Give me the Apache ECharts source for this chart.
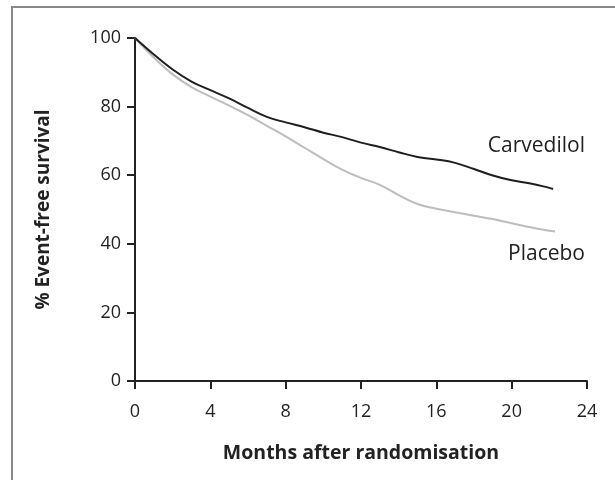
<!DOCTYPE html>
<html>
<head>
<meta charset="utf-8">
<script src="https://cdn.jsdelivr.net/npm/echarts@6/dist/echarts.min.js"></script>
<style>
html,body{margin:0;padding:0;background:#fff;}
#chart{width:615px;height:480px;}
</style>
</head>
<body>
<div id="chart"></div>
<script>
// Months after randomisation, % event-free survival
var carvedilolMonths = [0,1,2,3,4,5,6,7,8,9,10,11,12,13,14,15,16,17,18,19,20,21,22,22.2];
var carvedilolValues = [100,95.2,90.8,87.3,84.8,82.4,79.6,77,75.4,74,72.4,71.1,69.5,68.2,66.7,65.3,64.6,63.6,61.8,59.9,58.5,57.6,56.3,56];
var placeboMonths = [0,1,2,3,4,5,6,7,8,9,10,11,12,13,14,15,16,17,18,19,20,21,22,22.3];
var placeboValues = [100,94.3,89.4,85.7,82.9,80.3,77.5,74.4,71.3,68,64.7,61.6,59.2,57.2,54.2,51.6,50.2,49.2,48.2,47.2,46,44.8,43.8,43.6];
var seriesNames = ['Carvedilol','Placebo'];
var xTicks = [0,4,8,12,16,20,24];
var yTicks = [0,20,40,60,80,100];

function pairs(xs, ys){ return xs.map(function(x,i){ return [x, ys[i]]; }); }

var chart = echarts.init(document.getElementById('chart'), null, {renderer:'canvas'});
var labelFont = 'Open Sans';
chart.setOption({
  animation:false,
  backgroundColor:'#fff',
  grid:{left:135, right:28, top:38, bottom:99},
  xAxis:{
    type:'value', min:xTicks[0], max:xTicks[xTicks.length-1], interval:4,
    name:'Months after randomisation', nameLocation:'middle', nameGap:62,
    nameTextStyle:{fontFamily:labelFont, fontWeight:'bold', fontSize:19.5, color:'#222'},
    axisLine:{show:true, onZero:false, lineStyle:{color:'#222', width:2}},
    axisTick:{show:true, length:8, lineStyle:{color:'#222', width:2}},
    axisLabel:{margin:22, fontFamily:labelFont, fontSize:18, color:'#222'},
    splitLine:{show:false}
  },
  yAxis:{
    type:'value', min:yTicks[0], max:yTicks[yTicks.length-1], interval:20,
    name:'% Event-free survival', nameLocation:'middle', nameGap:82, nameRotate:90,
    nameTextStyle:{fontFamily:labelFont, fontWeight:'bold', fontSize:19, color:'#222'},
    axisLine:{show:true, onZero:false, lineStyle:{color:'#222', width:2}},
    axisTick:{show:true, length:8, lineStyle:{color:'#222', width:2}},
    axisLabel:{margin:14, fontFamily:labelFont, fontSize:18, color:'#222'},
    splitLine:{show:false}
  },
  series:[
    {name:seriesNames[0], type:'line', data:pairs(carvedilolMonths, carvedilolValues), smooth:0.4,
     showSymbol:false, lineStyle:{color:'#1e1e1e', width:2}, z:3},
    {name:seriesNames[1], type:'line', data:pairs(placeboMonths, placeboValues), smooth:0.4,
     showSymbol:false, lineStyle:{color:'#bdbdbd', width:2}, z:2}
  ],
  graphic:[
    {type:'line', shape:{x1:12, y1:6, x2:12, y2:480}, style:{stroke:'#888', lineWidth:2}},
    {type:'line', shape:{x1:11, y1:7, x2:615, y2:7}, style:{stroke:'#888', lineWidth:2}},
    {type:'text', right:30, top:136, style:{text:seriesNames[0], fontFamily:labelFont, fontSize:21, fill:'#222'}},
    {type:'text', right:30, top:244, style:{text:seriesNames[1], fontFamily:labelFont, fontSize:21, fill:'#222'}}
  ]
});
</script>
</body>
</html>
